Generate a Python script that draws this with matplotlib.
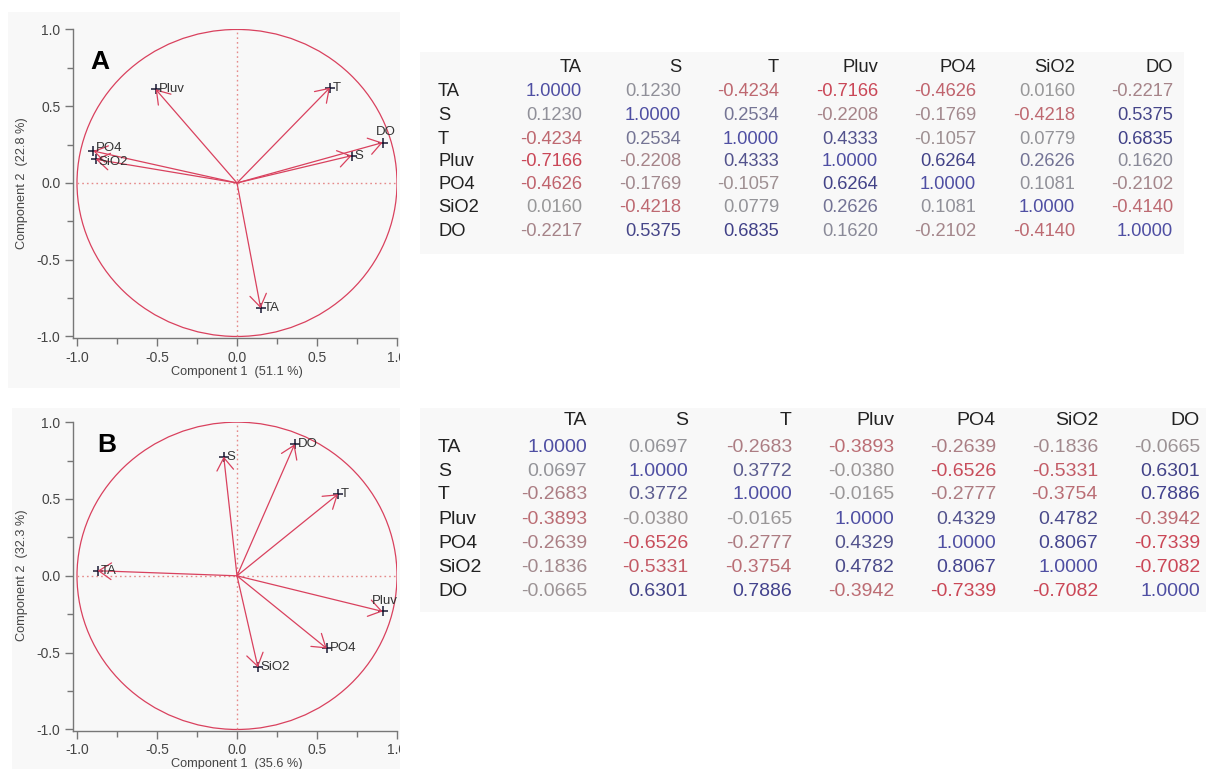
import matplotlib
matplotlib.use("Agg")
import matplotlib.pyplot as plt
from matplotlib.patches import Circle, Rectangle
from matplotlib.colors import LinearSegmentedColormap
from matplotlib.transforms import Bbox, TransformedBbox
import numpy as np

plt.rcParams['font.family'] = ['Liberation Sans', 'DejaVu Sans']

# ---------------- data ----------------
variables = ["TA", "S", "T", "Pluv", "PO4", "SiO2", "DO"]

# PCA loadings (component 1, component 2), season A
loadA_c1 = [0.148, 0.717, 0.581, -0.508, -0.898, -0.883, 0.910]
loadA_c2 = [-0.816, 0.178, 0.621, 0.610, 0.208, 0.154, 0.263]
varA_c1, varA_c2 = 51.1, 22.8

# PCA loadings, season B
loadB_c1 = [-0.871, -0.083, 0.631, 0.910, 0.561, 0.131, 0.360]
loadB_c2 = [0.033, 0.776, 0.531, -0.232, -0.473, -0.596, 0.856]
varB_c1, varB_c2 = 35.6, 32.3

corrA = [
    [1.0000, 0.1230, -0.4234, -0.7166, -0.4626, 0.0160, -0.2217],
    [0.1230, 1.0000, 0.2534, -0.2208, -0.1769, -0.4218, 0.5375],
    [-0.4234, 0.2534, 1.0000, 0.4333, -0.1057, 0.0779, 0.6835],
    [-0.7166, -0.2208, 0.4333, 1.0000, 0.6264, 0.2626, 0.1620],
    [-0.4626, -0.1769, -0.1057, 0.6264, 1.0000, 0.1081, -0.2102],
    [0.0160, -0.4218, 0.0779, 0.2626, 0.1081, 1.0000, -0.4140],
    [-0.2217, 0.5375, 0.6835, 0.1620, -0.2102, -0.4140, 1.0000],
]
corrB = [
    [1.0000, 0.0697, -0.2683, -0.3893, -0.2639, -0.1836, -0.0665],
    [0.0697, 1.0000, 0.3772, -0.0380, -0.6526, -0.5331, 0.6301],
    [-0.2683, 0.3772, 1.0000, -0.0165, -0.2777, -0.3754, 0.7886],
    [-0.3893, -0.0380, -0.0165, 1.0000, 0.4329, 0.4782, -0.3942],
    [-0.2639, -0.6526, -0.2777, 0.4329, 1.0000, 0.8067, -0.7339],
    [-0.1836, -0.5331, -0.3754, 0.4782, 0.8067, 1.0000, -0.7082],
    [-0.0665, 0.6301, 0.7886, -0.3942, -0.7339, -0.7082, 1.0000],
]

# ---------------- figure ----------------
W, H = 1206, 769
fig = plt.figure(figsize=(W / 100, H / 100), dpi=100)
fig.patch.set_facecolor("white")


def fx(px):
    return px / W


def fy(py):
    return 1 - py / H


def fig_rect(x0, y0, x1, y1, color):
    fig.patches.append(Rectangle((fx(x0), fy(y1)), fx(x1) - fx(x0), fy(y0) - fy(y1),
                                 transform=fig.transFigure, facecolor=color,
                                 edgecolor="none", zorder=-10))


# soft panel backgrounds
fig_rect(8, 12, 400, 388, "#f8f8f8")
fig_rect(420, 52, 1184, 254, "#f8f8f8")
fig_rect(12, 408, 400, 769, "#f8f8f8")
fig_rect(420, 408, 1206, 612, "#f8f8f8")

RED = "#d9415e"
LINE_GRAY = "#777777"
TEXT_GRAY = "#444444"

value_cmap = LinearSegmentedColormap.from_list("corr", [
    (0.00, (0.82, 0.25, 0.33)),
    (0.15, (0.79, 0.28, 0.34)),
    (0.30, (0.74, 0.42, 0.45)),
    (0.40, (0.64, 0.53, 0.55)),
    (0.50, (0.60, 0.60, 0.60)),
    (0.57, (0.56, 0.56, 0.60)),
    (0.65, (0.42, 0.42, 0.58)),
    (0.75, (0.28, 0.28, 0.54)),
    (0.86, (0.25, 0.25, 0.53)),
    (1.00, (0.31, 0.31, 0.64)),
])


def correlation_circle(ax, c1, c2, letter, letter_xy, label_offsets):
    ax.set_facecolor("none")
    ax.set_xlim(-1.025, 1.0)
    ax.set_ylim(-1.01, 1.003)
    for side in ("top", "right"):
        ax.spines[side].set_visible(False)
    for side in ("left", "bottom"):
        ax.spines[side].set_color(LINE_GRAY)
        ax.spines[side].set_linewidth(1.0)
    ticks = [-1.0, -0.5, 0.0, 0.5, 1.0]
    ax.set_xticks(ticks)
    ax.set_yticks(ticks)
    ax.set_xticks([-0.75, -0.25, 0.25, 0.75], minor=True)
    ax.set_yticks([-0.75, -0.25, 0.25, 0.75], minor=True)
    ax.set_xticklabels([f"{t:.1f}" for t in ticks])
    ax.set_yticklabels([f"{t:.1f}" for t in ticks])
    ax.tick_params(which="major", direction="out", length=6, width=1,
                   color=LINE_GRAY, labelsize=10, labelcolor=TEXT_GRAY, pad=3)
    ax.tick_params(which="minor", direction="out", length=4, width=1,
                   color=LINE_GRAY)

    # unit circle and dotted axes
    ax.add_patch(Circle((0, 0), 1.0, fill=False, edgecolor=RED, lw=0.9))
    ax.plot([-1, 1], [0, 0], linestyle=(0, (1.2, 2.2)), color="#e58a8a", lw=1.0)
    ax.plot([0, 0], [-1, 1], linestyle=(0, (1.2, 2.2)), color="#e58a8a", lw=1.0)

    # loading vectors
    for name, x, y in zip(variables, c1, c2):
        ax.annotate("", xy=(x, y), xytext=(0, 0),
                    arrowprops=dict(arrowstyle="->,head_length=0.9,head_width=0.6",
                                    color=RED, lw=0.9, shrinkA=0, shrinkB=0))
        ax.plot([x], [y], marker="+", color="#1a1a33", ms=7.5, mew=1.1)
        dx, dy, va = label_offsets.get(name, (2, 0, "center"))
        ax.annotate(name, (x, y), xytext=(dx, dy), textcoords="offset points",
                    ha="left", va=va, fontsize=9.5, color="#333333")

    # panel letter
    ax.text(letter_xy[0], letter_xy[1], letter, transform=ax.transAxes, fontsize=19,
            fontweight="bold", color="black", ha="left", va="center")

    # right-most tick label is cut by the panel edge
    clip = TransformedBbox(Bbox([[0, 0], [fx(400), 1]]), fig.transFigure)
    for tick in ax.xaxis.get_major_ticks():
        tick.label1.set_clip_box(clip)
        tick.label1.set_clip_on(True)
    return ax


# --- panel A ---
axA = fig.add_axes([fx(73), fy(338), fx(397) - fx(73), fy(29) - fy(338)])
correlation_circle(axA, loadA_c1, loadA_c2, "A", (0.052, 0.893),
                   {"DO": (-5, 3, "bottom"), "PO4": (2, 2, "center"),
                    "SiO2": (2, -2, "center")})
fig.text(fx(237), fy(372), f"Component 1  ({varA_c1} %)", ha="center", va="center",
         fontsize=9.2, color=TEXT_GRAY)
fig.text(fx(22), fy(183), f"Component 2  ({varA_c2} %)", ha="center", va="center",
         rotation=90, fontsize=9.2, color=TEXT_GRAY)

# --- panel B ---
axB = fig.add_axes([fx(73), fy(731), fx(397) - fx(73), fy(421.7) - fy(731)])
correlation_circle(axB, loadB_c1, loadB_c2, "B", (0.074, 0.926),
                   {"Pluv": (-8, 3, "bottom")})
fig.text(fx(237), fy(764), f"Component 1  ({varB_c1} %)", ha="center", va="center",
         fontsize=9.2, color=TEXT_GRAY)
fig.text(fx(22), fy(575), f"Component 2  ({varB_c2} %)", ha="center", va="center",
         rotation=90, fontsize=9.2, color=TEXT_GRAY)


# ---------------- correlation tables ----------------
def correlation_table(matrix, label_x, col_right, header_y, row_y, size):
    for name, xr in zip(variables, col_right):
        fig.text(fx(xr), fy(header_y), name, ha="right", va="center",
                 fontsize=size, color="#222222")
    for i, (name, yr) in enumerate(zip(variables, row_y)):
        fig.text(fx(label_x), fy(yr), name, ha="left", va="center",
                 fontsize=size, color="#222222")
        for j, xr in enumerate(col_right):
            v = matrix[i][j]
            fig.text(fx(xr), fy(yr), f"{v:.4f}", ha="right", va="center",
                     fontsize=size, color=value_cmap((v + 1) / 2))


correlation_table(corrA, 438,
                  [582, 681, 779, 878, 976, 1075, 1173],
                  67, [92, 116, 139, 162, 184.5, 208, 231], 13.2)
correlation_table(corrB, 438,
                  [587, 688, 792, 894, 996, 1098, 1200],
                  420, [448, 472, 495, 519.5, 543.5, 568, 591], 14)

fig.savefig("out.png", dpi=100, facecolor=fig.get_facecolor())
